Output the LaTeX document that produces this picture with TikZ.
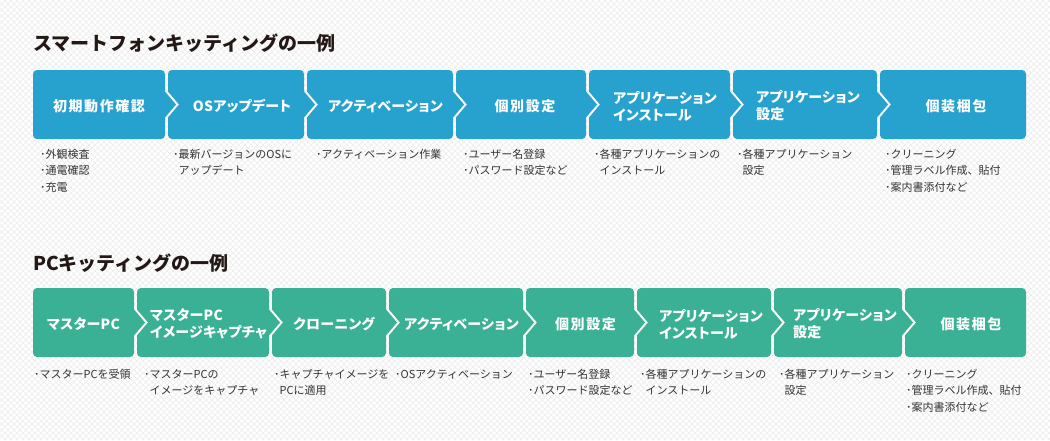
\documentclass[tikz,border=0pt]{standalone}
\usepackage{fontspec}
\setmainfont{Noto Sans CJK JP}
\newfontfamily\lblfont[RawFeature=+palt,LetterSpace=11]{Noto Sans CJK JP}
\newfontfamily\kanafont[RawFeature=+palt,LetterSpace=2]{Noto Sans CJK JP}
\definecolor{ttl}{HTML}{231815}
\definecolor{dsc}{HTML}{333333}
\definecolor{sblue}{HTML}{27A2CF}
\definecolor{pgreen}{HTML}{3AB094}
\definecolor{bgl}{HTML}{EFEFEF}
\tikzset{
  lbl/.style={text=white, font=\lblfont\bfseries\fontsize{14}{17}\selectfont, align=left, inner sep=0pt, anchor=center},
  klbl/.style={lbl, font=\kanafont\bfseries\fontsize{14}{17}\selectfont},
  ttlstyle/.style={text=ttl, font=\bfseries\fontsize{19}{22}\selectfont, anchor=base west, inner sep=0pt},
  dscstyle/.style={text=dsc, font=\fontsize{11}{16.5}\selectfont, anchor=base west, inner sep=0pt},
  bgline/.style={draw=bgl, line width=1pt},
}
\newcommand\bl[1]{\hbox{･#1}}
\newcommand\bc[1]{\hbox{\phantom{･}#1}}
% #1 left, #2 right, #3 top (px), #4 colour, #5 type: 0 first, 1 middle, 2 last
\newcommand\stepbox[5]{%
  \pgfmathsetmacro\sT{-#3}%
  \pgfmathsetmacro\sB{-#3-69}%
  \pgfmathsetmacro\sM{-#3-34.5}%
  \def\sL{#1}\def\sR{#2}%
  \ifcase#5\relax
    \fill[#4] (\sL,{\sB+4}) -- (\sL,{\sT-4}) arc[start angle=180,end angle=90,radius=4]
      -- ({\sR-4},\sT) arc[start angle=90,end angle=0,radius=4]
      -- (\sR,{\sM+13}) -- ({\sR+11},\sM) -- (\sR,{\sM-13})
      -- (\sR,{\sB+4}) arc[start angle=0,end angle=-90,radius=4]
      -- ({\sL+4},\sB) arc[start angle=-90,end angle=-180,radius=4] -- cycle;
  \or
    \fill[#4] (\sL,{\sB+4}) -- (\sL,{\sM-13}) -- ({\sL+11},\sM) -- (\sL,{\sM+13})
      -- (\sL,{\sT-4}) arc[start angle=180,end angle=90,radius=4]
      -- ({\sR-4},\sT) arc[start angle=90,end angle=0,radius=4]
      -- (\sR,{\sM+13}) -- ({\sR+11},\sM) -- (\sR,{\sM-13})
      -- (\sR,{\sB+4}) arc[start angle=0,end angle=-90,radius=4]
      -- ({\sL+4},\sB) arc[start angle=-90,end angle=-180,radius=4] -- cycle;
  \or
    \fill[#4] (\sL,{\sB+4}) -- (\sL,{\sM-13}) -- ({\sL+11},\sM) -- (\sL,{\sM+13})
      -- (\sL,{\sT-4}) arc[start angle=180,end angle=90,radius=4]
      -- ({\sR-4},\sT) arc[start angle=90,end angle=0,radius=4]
      -- (\sR,{\sB+4}) arc[start angle=0,end angle=-90,radius=4]
      -- ({\sL+4},\sB) arc[start angle=-90,end angle=-180,radius=4] -- cycle;
  \fi}
\begin{document}
\begin{tikzpicture}[x=1pt,y=1pt]
\useasboundingbox (0,0) rectangle (1050,-440);
\fill[white] (0,0) rectangle (1050,-440);
\begin{scope}
  \clip (0,0) rectangle (1050,-440);
  \foreach \i in {-440,-434,...,1050} \draw[bgline] (\i,0) -- ++(440,-440);
  \foreach \i in {0,6,...,1490} \draw[bgline] (\i,0) -- ++(-440,-440);
\end{scope}

% ---------- Smartphone kitting ----------
\node[ttlstyle] (title1) at (33,-50) {スマートフォンキッティングの一例};

\stepbox{33}{165}{70}{sblue}{0}
\stepbox{168}{304}{70}{sblue}{1}
\stepbox{307}{453}{70}{sblue}{1}
\stepbox{456}{586}{70}{sblue}{1}
\stepbox{589}{730}{70}{sblue}{1}
\stepbox{733}{877}{70}{sblue}{1}
\stepbox{880}{1026}{70}{sblue}{2}

\node[lbl] (s1) at (99,-106) {初期動作確認};
\node[klbl] (s2) at (242,-106) {OSアップデート};
\node[klbl] (s3) at (385.5,-106) {アクティベーション};
\node[lbl] (s4) at (525,-106) {個別設定};
\node[klbl] (s5) at (665,-106) {アプリケーション\\インストール};
\node[klbl] (s6) at (808,-106) {アプリケーション\\設定};
\node[lbl] (s7) at (956,-106) {個装梱包};

\node[dscstyle] (sd1) at (40,-158) {\vtop{\bl{外観検査}\bl{通電確認}\bl{充電}}};
\node[dscstyle] (sd2) at (173,-158) {\vtop{\bl{最新バージョンのOSに}\bc{アップデート}}};
\node[dscstyle] (sd3) at (316,-158) {\vtop{\bl{アクティベーション作業}}};
\node[dscstyle] (sd4) at (463,-158) {\vtop{\bl{ユーザー名登録}\bl{パスワード設定など}}};
\node[dscstyle] (sd5) at (594,-158) {\vtop{\bl{各種アプリケーションの}\bc{インストール}}};
\node[dscstyle] (sd6) at (737,-158) {\vtop{\bl{各種アプリケーション}\bc{設定}}};
\node[dscstyle] (sd7) at (885,-158) {\vtop{\bl{クリーニング}\bl{管理ラベル作成、貼付}\bl{案内書添付など}}};

% ---------- PC kitting ----------
\node[ttlstyle] (title2) at (33,-270) {PCキッティングの一例};

\stepbox{33}{134}{288}{pgreen}{0}
\stepbox{137}{269}{288}{pgreen}{1}
\stepbox{272}{386}{288}{pgreen}{1}
\stepbox{389}{523}{288}{pgreen}{1}
\stepbox{526}{634}{288}{pgreen}{1}
\stepbox{637}{771}{288}{pgreen}{1}
\stepbox{774}{902}{288}{pgreen}{1}
\stepbox{905}{1026}{288}{pgreen}{2}

\node[klbl] (p1) at (83.5,-324) {マスターPC};
\node[klbl] (p2) at (208.5,-324) {マスターPC\\イメージキャプチャ};
\node[klbl] (p3) at (334,-324) {クローニング};
\node[klbl] (p4) at (461.5,-324) {アクティベーション};
\node[lbl] (p5) at (585.5,-324) {個別設定};
\node[klbl] (p6) at (711,-324) {アプリケーション\\インストール};
\node[klbl] (p7) at (845,-324) {アプリケーション\\設定};
\node[lbl] (p8) at (971,-324) {個装梱包};

\node[dscstyle] (pd1) at (34,-378) {\vtop{\bl{マスターPCを受領}}};
\node[dscstyle] (pd2) at (144,-378) {\vtop{\bl{マスターPCの}\bc{イメージをキャプチャ}}};
\node[dscstyle] (pd3) at (274,-378) {\vtop{\bl{キャプチャイメージを}\bc{PCに適用}}};
\node[dscstyle] (pd4) at (395,-378) {\vtop{\bl{OSアクティベーション}}};
\node[dscstyle] (pd5) at (528,-378) {\vtop{\bl{ユーザー名登録}\bl{パスワード設定など}}};
\node[dscstyle] (pd6) at (640,-378) {\vtop{\bl{各種アプリケーションの}\bc{インストール}}};
\node[dscstyle] (pd7) at (779,-378) {\vtop{\bl{各種アプリケーション}\bc{設定}}};
\node[dscstyle] (pd8) at (906,-378) {\vtop{\bl{クリーニング}\bl{管理ラベル作成、貼付}\bl{案内書添付など}}};
\end{tikzpicture}
\end{document}
